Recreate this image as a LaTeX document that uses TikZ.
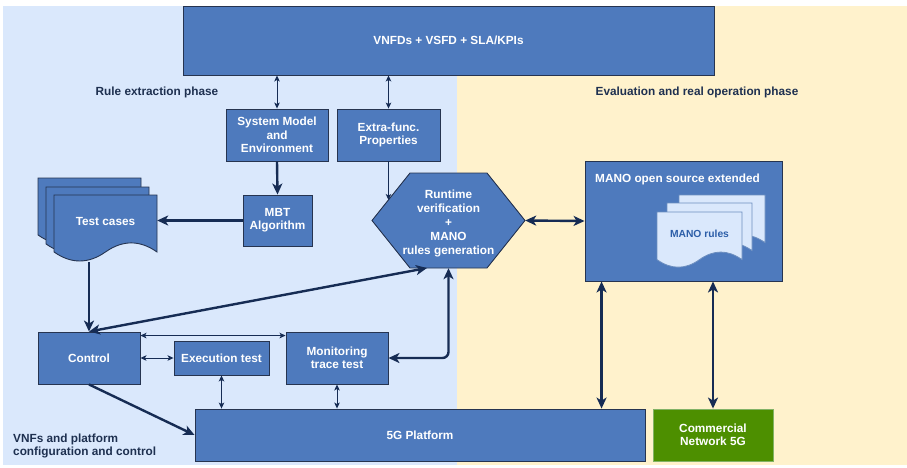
\documentclass[tikz,border=0pt]{standalone}
\usepackage{fontspec}
\setmainfont{Liberation Sans}
\usetikzlibrary{arrows.meta,calc}

\definecolor{boxblue}{RGB}{78,122,189}
\definecolor{boxline}{RGB}{38,52,80}
\definecolor{bgblue}{RGB}{218,232,252}
\definecolor{bgyellow}{RGB}{255,242,204}
\definecolor{arrowc}{RGB}{22,44,84}
\definecolor{labelc}{RGB}{30,48,80}
\definecolor{greenfill}{RGB}{77,143,0}
\definecolor{greenline}{RGB}{130,179,102}
\definecolor{sheetline}{RGB}{108,142,191}
\definecolor{rulestext}{RGB}{44,94,168}

\newcommand{\boxfont}{\fontsize{11.8}{13.3}\selectfont\bfseries}
\newcommand{\hexfont}{\fontsize{11.8}{14}\selectfont\bfseries}
\newcommand{\rulesfont}{\fontsize{10.3}{12}\selectfont\bfseries}

% one sheet of a document stack: x, y (top left), width, height, style
\newcommand{\docsheet}[5]{%
  \pgfmathsetmacro{\docdy}{0.3*#4}%
  \draw[#5] (#1,#2) -- (#1+#3,#2) -- (#1+#3,#2+#4-0.5*\docdy)
    .. controls (#1+5*#3/6,#2+#4-1.1*\docdy) and (#1+2*#3/3,#2+#4-1.1*\docdy) .. (#1+0.5*#3,#2+#4-0.5*\docdy)
    .. controls (#1+#3/3,#2+#4+0.1*\docdy) and (#1+#3/6,#2+#4+0.1*\docdy) .. (#1,#2+#4-0.5*\docdy)
    -- cycle;}

\tikzset{
  box/.style={draw=boxline, fill=boxblue, line width=0.9pt, text=white,
    font=\boxfont, align=center, inner sep=0pt},
  greenbox/.style={box, draw=greenline, fill=greenfill},
  darksheet/.style={draw=boxline, fill=boxblue, line width=0.9pt},
  lightsheet/.style={draw=sheetline, fill=bgblue, line width=0.8pt},
  phase/.style={text=labelc, font=\boxfont, inner sep=0pt},
  thin/.style={draw=arrowc, line width=1pt,
    arrows={Stealth[length=6pt,width=5.5pt,inset=1.5pt]-Stealth[length=6pt,width=5.5pt,inset=1.5pt]}},
  thinone/.style={draw=arrowc, line width=1pt, -{Stealth[length=6pt,width=5.5pt,inset=1.5pt]}},
  thick/.style={draw=arrowc, line width=2.4pt,
    arrows={Stealth[length=11pt,width=10pt,inset=3pt]-Stealth[length=11pt,width=10pt,inset=3pt]}},
  thickone/.style={draw=arrowc, line width=2.4pt, -{Stealth[length=11pt,width=10pt,inset=3pt]}},
}

\begin{document}
\begin{tikzpicture}[x=1pt,y=-1pt]
  \useasboundingbox (0,0) rectangle (907,467);
  \fill[white] (0,0) rectangle (907,467);

  % phase areas
  \fill[bgblue] (3,6) rectangle (457,465);
  \fill[bgyellow] (457,6) rectangle (907,465);

  \node[phase] (rulelbl) at (157,92) {Rule extraction phase};
  \node[phase] (evallbl) at (697,92) {Evaluation and real operation phase};
  \node[phase, align=left, anchor=west] (vnflbl) at (13,446) {VNFs and platform\\configuration and control};

  % descriptors
  \node[box, minimum width=531pt, minimum height=69pt] (top) at (448.5,40.5) {VNFDs + VSFD + SLA/KPIs};

  % rule extraction
  \node[box, minimum width=102pt, minimum height=52pt] (sys) at (277,135) {System Model\\and\\Environment};
  \node[box, minimum width=103pt, minimum height=52pt] (extra) at (388.5,135) {Extra-func.\\Properties};
  \node[box, minimum width=69pt, minimum height=51pt] (mbt) at (277.5,220.5) {MBT\\Algorithm};

  % test cases stack
  \docsheet{38}{178}{103}{67}{darksheet}
  \docsheet{46}{187}{103}{67}{darksheet}
  \docsheet{54}{195}{103}{67}{darksheet}
  \node[minimum width=103pt, minimum height=67pt, inner sep=0pt] (tc) at (105.5,228.5) {};
  \node[text=white, font=\boxfont, inner sep=0pt] (tclbl) at (105.5,221) {Test cases};

  % runtime verification hexagon
  \draw[darksheet] (372,220.5) -- (410,173) -- (487,173) -- (525,220.5) -- (487,268) -- (410,268) -- cycle;
  \node[minimum width=153pt, minimum height=95pt, inner sep=0pt] (hex) at (448.5,220.5) {};
  \node[text=white, font=\hexfont, align=center, inner sep=0pt]
    (hexlbl) at (448.5,223) {Runtime\\verification\\+\\MANO\\rules generation};
  \coordinate (hexleft) at (388.5,200);
  \coordinate (hexsw) at (427,268);

  % MANO
  \node[box, minimum width=197pt, minimum height=120pt] (mano) at (683.5,221) {};
  \node[text=white, font=\boxfont, inner sep=0pt, anchor=west] (manotitle) at (595,179) {MANO open source extended};
  \docsheet{679}{195}{86}{56}{lightsheet}
  \docsheet{667}{203}{85}{56}{lightsheet}
  \docsheet{657}{212}{85}{56}{lightsheet}
  \node[text=rulestext, font=\rulesfont, inner sep=0pt] (rules) at (699.5,234) {MANO rules};
  \coordinate (manoport) at ($(mano.south west)+(17,0)$);

  % control and test execution
  \node[box, minimum width=102pt, minimum height=52pt] (control) at (89,358) {Control};
  \node[box, minimum width=95pt, minimum height=34pt] (exec) at (221.5,358) {Execution test};
  \node[box, minimum width=102pt, minimum height=52pt] (mon) at (337,358) {Monitoring\\trace test};

  % platforms
  \node[box, minimum width=450pt, minimum height=52pt] (plat) at (420,435) {5G Platform};
  \node[greenbox, minimum width=120pt, minimum height=52pt] (comm) at (713,435) {Commercial\\Network 5G};

  % connectors
  \draw[thin] (sys.north |- top.south) -- (sys.north);
  \draw[thin] (extra.north |- top.south) -- (extra.north);
  \draw[thickone] (sys.south) -- (mbt.north);
  \draw[thinone] (extra.south) -- (hexleft);
  \draw[thickone] (mbt.west) -- (mbt.west -| tc.east);
  \draw[thickone] (control.north |- tc.south) -- (control.north);
  \draw[thick] (hexsw) -- (control.north);
  \draw[thin] ($(control.north east)+(0,4)$) -- ($(mon.north west)+(0,4)$);
  \draw[thin] (control.east) -- (exec.west);
  \draw[thin] (exec.south) -- (exec.south |- plat.north);
  \draw[thin] (mon.south) -- (mon.south |- plat.north);
  \draw[thick, rounded corners=6pt] (mon.east) -| (hex.south);
  \draw[thickone] (control.south) -- (plat.west);
  \draw[thick] (hex.east) -- (mano.west);
  \draw[thick] (manoport) -- (manoport |- plat.north);
  \draw[thick] (comm.north |- mano.south) -- (comm.north);
\end{tikzpicture}
\end{document}
